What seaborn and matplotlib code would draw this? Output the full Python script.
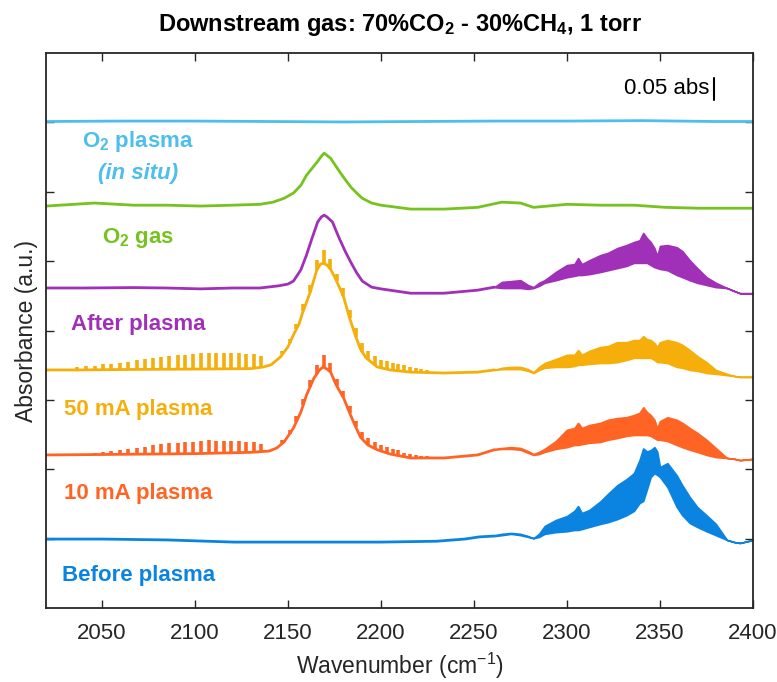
import numpy as np
import matplotlib
matplotlib.use("Agg")
import matplotlib.pyplot as plt
import seaborn as sns

# ---- data (wavenumber in cm-1, absorbance in mAbs relative to each trace baseline) ----
cyan_wn = [2020, 2060, 2100, 2140, 2180, 2220, 2260, 2300, 2340, 2380, 2400]
cyan_abs = [0, 1, 1, 0, -1, 0, 1, 1, 2, 0, 0]

green_wn = [2020, 2035, 2046, 2067, 2085, 2103, 2120, 2135, 2142, 2148, 2153, 2157, 2160,
            2163, 2166, 2168, 2169.5, 2171, 2173, 2175.5, 2178, 2181, 2184, 2187, 2190,
            2195, 2200, 2216, 2234, 2252, 2265, 2275, 2282, 2300, 2318, 2336, 2353, 2371,
            2385, 2400]
green_abs = [-2, 2, 5, 0, 0, -2, 0, 2, 7, 16, 28, 46, 69, 85, 101, 113, 120, 115, 108, 92,
             76, 58, 41, 28, 16, 5, 0, -9, -9, -5, 7, 5, -5, 2, 0, 0, -5, -7, -7, -7]

purple_wn = [2020, 2040, 2067, 2085, 2103, 2120, 2135, 2145, 2150, 2153, 2157, 2160, 2163,
             2166, 2168, 2169.5, 2171, 2174, 2176, 2178, 2181, 2184, 2187, 2190, 2195, 2200,
             2216, 2234, 2252, 2261]
purple_abs = [0, 0, 1, 0, -2, 0, 0, 5, 9, 16, 42, 76, 115, 152, 164, 168, 164, 152, 131,
              111, 83, 58, 35, 16, 2, -2, -12, -12, -5, 2]

yellow_wn = [2020, 2037, 2060, 2100, 2130, 2137, 2141, 2146, 2150, 2153, 2156, 2158, 2162,
             2165.5, 2167.5, 2169, 2171, 2173, 2176, 2180, 2183, 2186, 2189, 2192, 2198,
             2205, 2216, 2234, 2252, 2261]
yellow_abs = [0, 0, 1, 2, 3, 7, 12, 30, 53, 81, 106, 133, 179, 230, 244, 246, 242, 232, 207,
              168, 122, 83, 48, 28, 7, 0, -5, -7, -5, 0]

orange_wn = [2020, 2050, 2100, 2130, 2140, 2144, 2148, 2153, 2157, 2160, 2164, 2167, 2169,
             2171, 2173, 2176, 2180, 2183, 2186, 2189, 2193, 2198, 2205, 2216, 2234, 2252, 2261]
orange_abs = [0, 1, 3, 6, 9, 16, 30, 62, 99, 138, 177, 196, 203, 198, 191, 161, 131, 99, 69,
              41, 23, 12, 2, -7, -7, 0, 12]

blue_wn = [2020, 2050, 2085, 2121, 2150, 2180, 2200, 2230, 2245, 2253, 2261]
blue_abs = [0, 0, -2, -7, -7, -7, -7, -5, 0, 5, 7]

# CO2 band region: unresolved rotational structure given as lower / upper envelope
band_wn = [2261, 2265, 2270, 2275, 2279, 2282, 2285, 2288, 2294, 2300, 2304, 2306, 2308,
           2312, 2318, 2322, 2327, 2332, 2336, 2339, 2341, 2343, 2345, 2347, 2348.5, 2350,
           2354, 2359, 2362, 2366, 2370, 2375, 2380, 2386, 2390, 2393, 2400]
purple_lo = [2, 0, 0, 0, -2, 0, 5, 12, 18, 25, 28, 30, 30, 32, 37, 41, 46, 51, 58, 58, 58,
             58, 53, 48, 46, 44, 41, 30, 25, 18, 12, 7, 2, 0, -7, -12, -12]
purple_hi = [2, 14, 16, 18, 7, 2, 12, 18, 37, 53, 55, 69, 55, 64, 76, 81, 92, 99, 106, 110,
             127, 115, 106, 92, 74, 97, 99, 94, 85, 64, 46, 25, 12, 0, -7, -12, -12]
yellow_lo = [0, 2, 2, 2, -2, -7, 0, 5, 7, 7, 9, 12, 12, 14, 16, 16, 18, 23, 28, 28, 28, 28,
             28, 23, 18, 18, 16, 7, 5, 0, -2, -7, -9, -12, -14, -16, -16]
yellow_hi = [0, 5, 7, 7, 2, -5, 7, 16, 25, 35, 35, 46, 35, 44, 53, 55, 64, 64, 69, 69, 78,
             71, 69, 62, 53, 64, 69, 64, 58, 46, 32, 18, 0, -9, -14, -16, -16]
orange_lo = [12, 14, 14, 12, 5, 0, 2, 7, 14, 18, 23, 23, 25, 28, 30, 35, 39, 44, 46, 46, 46,
             46, 44, 39, 35, 35, 32, 23, 18, 12, 7, 0, -5, -7, -9, -12, -9]
orange_hi = [14, 16, 18, 16, 9, 2, 7, 14, 32, 58, 62, 74, 62, 69, 74, 81, 85, 87, 92, 97,
             110, 99, 92, 81, 62, 78, 87, 81, 74, 62, 51, 35, 16, -7, -9, -12, -9]
blue_lo = [7, 9, 12, 9, 5, 2, 5, 12, 16, 18, 21, 21, 23, 28, 35, 39, 46, 55, 65, 83, 88,
           115, 143, 152, 148, 143, 120, 74, 55, 37, 28, 18, 9, -2, -7, -9, -2]
blue_hi = [9, 12, 14, 12, 7, 2, 12, 30, 44, 53, 65, 76, 60, 67, 87, 104, 124, 138, 152, 182,
           209, 202, 205, 212, 202, 166, 175, 147, 124, 97, 74, 55, 35, -2, -7, -9, -2]

# CO rovibrational lines (P and R branches) seen in the plasma spectra
p_lines = [2036.7, 2041.4, 2046.1, 2050.7, 2055.2, 2059.8, 2064.3, 2068.8, 2073.2, 2077.6,
           2082.0, 2086.3, 2090.7, 2094.9, 2099.1, 2103.3, 2107.4, 2111.5, 2115.6, 2119.7,
           2123.7, 2127.7, 2131.6, 2135.5]
r_lines = [2147.1, 2150.9, 2154.6, 2158.3, 2162.0, 2165.6, 2169.2, 2172.8, 2176.3, 2179.8,
           2183.2, 2186.6, 2190.0, 2193.3, 2196.6, 2199.9, 2203.1, 2206.3, 2209.4, 2212.5,
           2215.6, 2218.6, 2221.6, 2224.6]
yellow_p_h = [7, 8, 9, 12, 13, 16, 18, 21, 23, 25, 28, 30, 32, 33, 35, 36, 37, 37, 37, 37,
              36, 35, 32, 25]
yellow_r_h = [7, 9, 12, 16, 18, 23, 32, 23, 18, 18, 18, 21, 21, 21, 21, 18, 18, 16, 16, 14,
              12, 9, 7, 5]
orange_p_h = [2, 2, 3, 5, 7, 9, 12, 14, 17, 21, 23, 24, 25, 28, 28, 29, 30, 29, 28, 28, 26,
              25, 23, 18]
orange_r_h = [7, 9, 12, 14, 16, 21, 28, 21, 16, 16, 16, 16, 16, 16, 14, 14, 14, 12, 12, 9,
              9, 7, 5, 5]

offsets = {"cyan": 1122, "green": 929, "purple": 738, "yellow": 549, "orange": 353, "blue": 159}
colors = {"cyan": "#4DBEEE", "green": "#76C21E", "purple": "#A030B8",
          "yellow": "#F5AE0A", "orange": "#FF6424", "blue": "#0A84E0"}

# ---- style ----
sns.set_theme(style="white")
plt.rcParams["font.family"] = ["Liberation Sans", "DejaVu Sans"]
plt.rcParams["mathtext.fontset"] = "custom"
plt.rcParams["mathtext.rm"] = "Liberation Sans"
plt.rcParams["mathtext.it"] = "Liberation Sans:italic"
plt.rcParams["mathtext.bf"] = "Liberation Sans:bold"
dark = "#262626"

fig = plt.figure(figsize=(7.77, 6.82), dpi=100)
ax = fig.add_axes([46 / 777, 1 - 608 / 682, 707 / 777, 555 / 682])
lw = 2.0


def smooth(wn, vals, key):
    sns.lineplot(x=np.array(wn), y=np.array(vals) + offsets[key], ax=ax,
                 color=colors[key], linewidth=lw, legend=False)


def band(lo, hi, key):
    off = offsets[key]
    ax.fill_between(band_wn, np.array(lo) + off, np.array(hi) + off,
                    color=colors[key], linewidth=1.2, edgecolor=colors[key])


def comb(lines, heights, wn, vals, key):
    base = np.interp(lines, wn, vals) + offsets[key]
    ax.vlines(lines, base, base + np.array(heights), color=colors[key], linewidth=2.6)


smooth(cyan_wn, cyan_abs, "cyan")
smooth(green_wn, green_abs, "green")
smooth(purple_wn, purple_abs, "purple")
band(purple_lo, purple_hi, "purple")
smooth(yellow_wn, yellow_abs, "yellow")
band(yellow_lo, yellow_hi, "yellow")
comb(p_lines, yellow_p_h, yellow_wn, yellow_abs, "yellow")
comb(r_lines, yellow_r_h, yellow_wn, yellow_abs, "yellow")
smooth(orange_wn, orange_abs, "orange")
band(orange_lo, orange_hi, "orange")
comb(p_lines, orange_p_h, orange_wn, orange_abs, "orange")
comb(r_lines, orange_r_h, orange_wn, orange_abs, "orange")
smooth(blue_wn, blue_abs, "blue")
band(blue_lo, blue_hi, "blue")

# trace labels
lab_x = 2069.6
lab_fs = 16
ax.text(lab_x, 1077, r"O$_\mathbf{2}$ plasma", color=colors["cyan"], fontsize=lab_fs,
        fontweight="bold", ha="center", va="center")
ax.text(lab_x, 1003, "(in situ)", color=colors["cyan"], fontsize=lab_fs,
        fontweight="bold", fontstyle="italic", ha="center", va="center")
ax.text(lab_x, 853, r"O$_\mathbf{2}$ gas", color=colors["green"], fontsize=lab_fs,
        fontweight="bold", ha="center", va="center")
ax.text(lab_x, 653, "After plasma", color=colors["purple"], fontsize=lab_fs,
        fontweight="bold", ha="center", va="center")
ax.text(lab_x, 457, "50 mA plasma", color=colors["yellow"], fontsize=lab_fs,
        fontweight="bold", ha="center", va="center")
ax.text(lab_x, 265, "10 mA plasma", color=colors["orange"], fontsize=lab_fs,
        fontweight="bold", ha="center", va="center")
ax.text(lab_x, 74, "Before plasma", color=colors["blue"], fontsize=lab_fs,
        fontweight="bold", ha="center", va="center")

# scale bar: 0.05 abs
ax.plot([2379.3, 2379.3], [1172, 1222], color="black", linewidth=1.5)
ax.text(2376.5, 1197, "0.05 abs", fontsize=16, color="black", ha="right", va="center")

ax.set_xlim(2020, 2400)
ax.set_ylim(0, 1280)
ax.set_xticks([2050, 2100, 2150, 2200, 2250, 2300, 2350, 2400])
ax.set_yticks([160, 320, 480, 640, 800, 960, 1120])
ax.tick_params(direction="in", length=6, width=1, top=True, right=True, bottom=True,
               left=True, labelleft=False, labelsize=16, colors=dark, pad=11)
for s in ax.spines.values():
    s.set_visible(True)
    s.set_color(dark)
    s.set_linewidth(1.3)

ax.set_xlabel(r"Wavenumber (cm$^{\mathrm{-1}}$)", fontsize=16.5, color=dark, labelpad=5)
ax.set_ylabel("Absorbance (a.u.)", fontsize=16.5, color=dark, labelpad=6)
ax.set_title(r"Downstream gas: 70%CO$_\mathbf{2}$ - 30%CH$_\mathbf{4}$, 1 torr",
             fontsize=17, fontweight="bold", color="black", pad=16)

fig.savefig("out.png", dpi=100)
